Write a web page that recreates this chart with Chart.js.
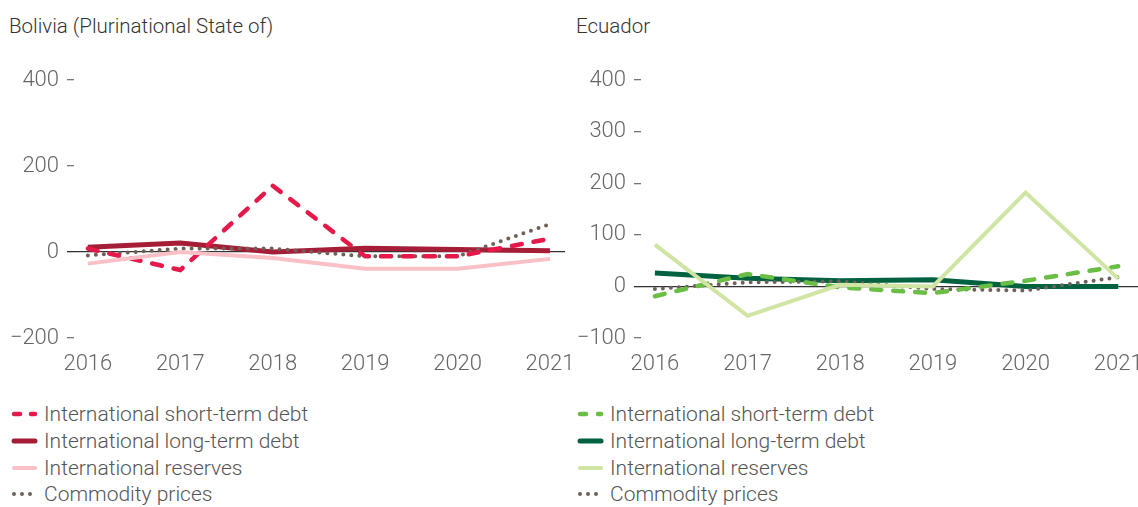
<!DOCTYPE html>
<html>
<head>
<meta charset="utf-8">
<script src="https://cdn.jsdelivr.net/npm/chart.js@4/dist/chart.umd.min.js"></script>
<style>
  html, body { margin: 0; padding: 0; background: #fff; overflow: hidden; }
  body { width: 1138px; height: 507px; position: relative; font-family: Roboto, sans-serif; }
  .title { position: absolute; top: 14px; font-size: 20.5px; font-weight: 300; color: #333; }
  .box { position: absolute; top: 0; height: 380px; }
  .legend { position: absolute; top: 401px; font-size: 21px; font-weight: 300; color: #555; }
  .item { height: 26.7px; display: flex; align-items: center; white-space: nowrap; }
  .item svg { margin-right: 6px; }
</style>
</head>
<body>
<div class="title" style="left:9px">Bolivia (Plurinational State of)</div>
<div class="title" style="left:576px">Ecuador</div>
<div class="box" style="left:0; width:580px"><canvas id="bolivia-chart"></canvas></div>
<div class="box" style="left:570px; width:580px"><canvas id="ecuador-chart"></canvas></div>
<div class="legend" id="bolivia-legend" style="left:11px"></div>
<div class="legend" id="ecuador-legend" style="left:577px"></div>
<script>
// data
const years = [2016, 2017, 2018, 2019, 2020, 2021];
const seriesNames = ['International short-term debt', 'International long-term debt', 'International reserves', 'Commodity prices'];

const boliviaShort = [8, -42, 154, -10, -10, 31];
const boliviaLong = [11, 21, 0, 9, 6, 3];
const boliviaReserves = [-27, 0, -14, -39, -39, -16];
const boliviaCommodity = [-8, 8, 8, -10, -10, 65];
const boliviaTicks = [-200, 0, 200, 400];

const ecuadorShort = [-19, 24, -2, -13, 11, 39];
const ecuadorLong = [26, 16, 11, 13, 0, 0];
const ecuadorReserves = [81, -57, 3, 0, 182, 15];
const ecuadorCommodity = [-5, 8, 10, -5, -8, 18];
const ecuadorTicks = [-100, 0, 100, 200, 300, 400];

// styles
const boliviaColors = ['#e6194b', '#a51d37', '#f9c0c6', '#6e6058'];
const ecuadorColors = ['#6abd45', '#00623f', '#d0e5a4', '#6e6058'];
const widths = [4.5, 5, 4, 4];
const dashes = [[10, 12], [], [], [0, 8]];

Chart.defaults.font.family = 'Roboto, sans-serif';
Chart.defaults.font.size = 22;
Chart.defaults.font.weight = '300';
Chart.defaults.color = '#666';

function points(values) {
    return values.map((v, i) => ({ x: years[i], y: v }));
}

function makeDatasets(series, colors) {
    // reserves first so it sits underneath
    const drawOrder = [2, 0, 3, 1];
    return drawOrder.map(i => ({
        label: seriesNames[i],
        data: points(series[i]),
        borderColor: colors[i],
        borderWidth: widths[i],
        borderDash: dashes[i],
        borderCapStyle: dashes[i].length ? 'round' : 'butt',
        pointRadius: 0,
        tension: 0
    }));
}

function makeConfig(series, colors, ticks, xMin, xMax, padRight, axisWidth) {
    return {
        type: 'line',
        data: { datasets: makeDatasets(series, colors) },
        options: {
            responsive: true,
            maintainAspectRatio: false,
            animation: false,
            layout: { padding: { top: 80, bottom: 0, left: 0, right: padRight } },
            plugins: { legend: { display: false }, tooltip: { enabled: false } },
            scales: {
                x: {
                    type: 'linear',
                    min: xMin,
                    max: xMax,
                    afterBuildTicks: s => { s.ticks = years.map(v => ({ value: v })); },
                    afterFit: s => { s.height = 42; s.paddingLeft = 0; s.paddingRight = 0; },
                    ticks: { padding: 13, callback: v => String(v), color: '#666' },
                    grid: { display: false, drawTicks: false },
                    border: { display: false }
                },
                y: {
                    min: ticks[0],
                    max: ticks[ticks.length - 1],
                    afterBuildTicks: s => { s.ticks = ticks.map(v => ({ value: v })); },
                    afterFit: s => { s.width = axisWidth; s.paddingTop = 0; s.paddingBottom = 0; },
                    ticks: {
                        padding: 8,
                        color: '#666',
                        callback: v => v < 0 ? '\u2212' + Math.abs(v) : String(v)
                    },
                    grid: {
                        drawTicks: true,
                        tickLength: 7,
                        lineWidth: 1.3,
                        tickWidth: 1.3,
                        color: c => c.tick && c.tick.value === 0 ? '#333' : 'transparent',
                        tickColor: c => c.tick && c.tick.value === 0 ? '#333' : '#777'
                    },
                    border: { display: false }
                }
            }
        }
    };
}

function buildLegend(el, colors, shortDash) {
    seriesNames.forEach((name, i) => {
        const row = document.createElement('div');
        row.className = 'item';
        const dash = i === 0 ? shortDash : dashes[i].join(' ');
        row.innerHTML =
            '<svg width="27" height="10"><line x1="3" y1="5" x2="24" y2="5" stroke="' + colors[i] +
            '" stroke-width="' + widths[i] + '" stroke-linecap="round"' +
            (dash ? ' stroke-dasharray="' + dash + '"' : '') + '/></svg><span>' + name + '</span>';
        el.appendChild(row);
    });
}

const boliviaChart = new Chart(
    document.getElementById('bolivia-chart'),
    makeConfig([boliviaShort, boliviaLong, boliviaReserves, boliviaCommodity], boliviaColors, boliviaTicks, 2015.85, 2021.162, 15, 74)
    );

const ecuadorChart = new Chart(
    document.getElementById('ecuador-chart'),
    makeConfig([ecuadorShort, ecuadorLong, ecuadorReserves, ecuadorCommodity], ecuadorColors, ecuadorTicks, 2015.85, 2021.30, 4, 71)
    );

buildLegend(document.getElementById('bolivia-legend'), boliviaColors, '6 11');
buildLegend(document.getElementById('ecuador-legend'), ecuadorColors, '6 12');
</script>
</body>
</html>
